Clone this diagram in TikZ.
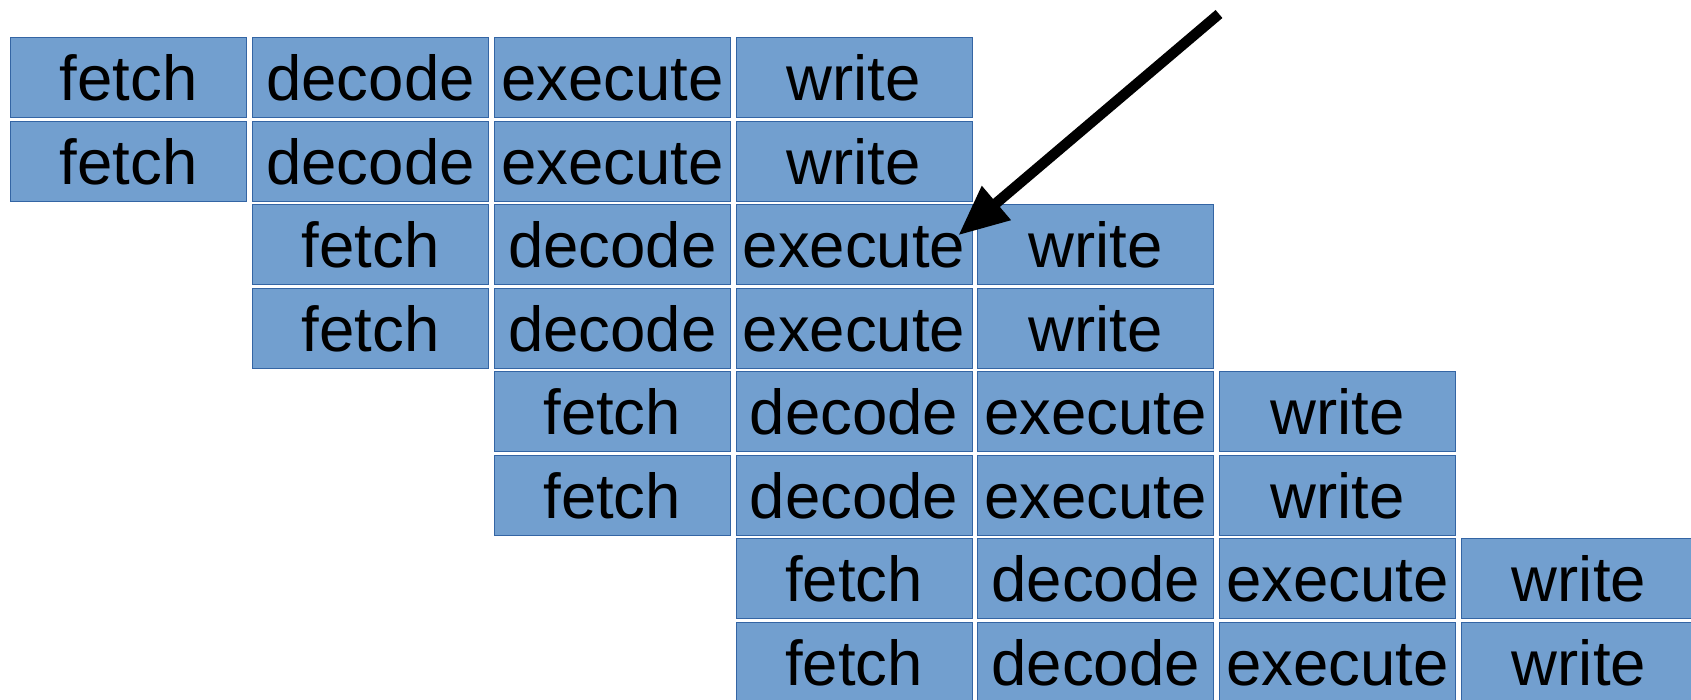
\documentclass[tikz,border=0pt]{standalone}
\usepackage{fontspec}
\setmainfont{Liberation Sans}
\usetikzlibrary{arrows.meta}
\definecolor{stagefill}{HTML}{729FCF}
\definecolor{stageline}{HTML}{3465A4}
\begin{document}
\begin{tikzpicture}[x=1pt,y=-1pt,
  stage/.style={draw=stageline, fill=stagefill, line width=0.8pt,
    minimum width=236pt, minimum height=80pt, inner sep=0pt,
    font=\fontsize{63.5}{70}\selectfont, text height=46pt, text depth=0pt},
  pointer/.style={line width=10.5pt, -{Triangle[length=50pt,width=42pt]}}]
  \fill[white] (0,0) rectangle (1691,699);
  \useasboundingbox (0,0) rectangle (1691,699);
  \clip (0,0) rectangle (1691,699);
  % two instructions enter the pipeline per cycle
  \foreach \r in {0,...,7}{
    \pgfmathtruncatemacro\s{int(\r/2)}
    \foreach [count=\k from 0] \t in {fetch,decode,execute,write}{
      \pgfmathtruncatemacro\c{\s+\k}
      \node[stage] (n\r\c) at (128.8+241.7*\c, 77.7+83.5*\r) {\t};
    }
  }
  \coordinate (tail) at (1219,14);
  \coordinate (tip) at ([shift={(-14,31)}]n23.north east);
  \draw[pointer] (tail) -- (tip);
\end{tikzpicture}
\end{document}
